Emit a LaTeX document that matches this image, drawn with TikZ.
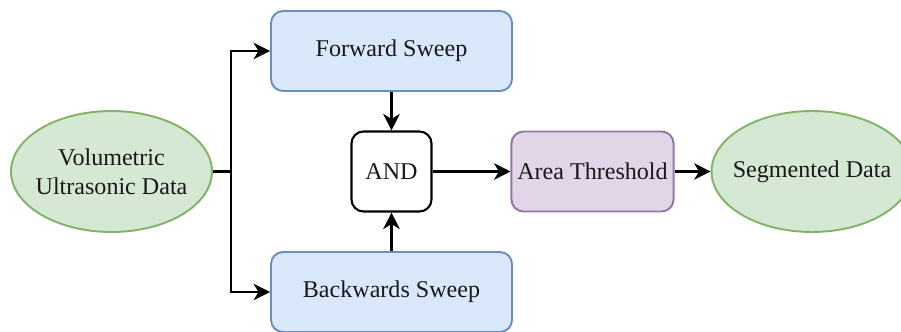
\documentclass[tikz,border=0pt]{standalone}
\usepackage{fontspec}
\setmainfont{Liberation Serif}
\usepackage{xcolor}
\usepackage{tikz}
\usetikzlibrary{arrows.meta, shapes, positioning}
\definecolor{sweepfill}{HTML}{DAE8FC}
\definecolor{sweepdraw}{HTML}{6C8EBF}
\definecolor{datafill}{HTML}{D5E8D4}
\definecolor{datadraw}{HTML}{82B366}
\definecolor{areafill}{HTML}{E1D5E7}
\definecolor{areadraw}{HTML}{9673A6}
\tikzset{
  txt/.style={font=\fontsize{13.7}{16.5}\selectfont, align=center, text=black!90},
  sweep/.style={rectangle, draw=sweepdraw, fill=sweepfill, rounded corners=2.4mm,
                line width=1.1pt, minimum width=4.82cm, minimum height=1.6cm, txt},
  gate/.style={rectangle, draw=black, fill=white, rounded corners=2.4mm,
               line width=1.2pt, minimum width=1.6cm, minimum height=1.6cm, txt},
  filt/.style={rectangle, draw=areadraw, fill=areafill, rounded corners=2.4mm,
               line width=1.1pt, minimum width=3.22cm, minimum height=1.6cm, txt},
  data/.style={ellipse, draw=datadraw, fill=datafill, line width=1.1pt,
               inner sep=0pt, minimum width=4.02cm, minimum height=2.42cm},
  arc/.style={-{Stealth[length=3.3mm, width=3.3mm, inset=1mm]}, line width=1.35pt}
}
\begin{document}
\begin{tikzpicture}[x=0.02cm, y=-0.02cm]
  \useasboundingbox (0,0) rectangle (901,331);
  \node[data, label={[txt]center:Volumetric\\Ultrasonic Data}] (vol) at (111.5,171.5) {};
  \node[sweep] (fwd) at (391.5,51) {Forward Sweep};
  \node[sweep] (bwd) at (391.5,292) {Backwards Sweep};
  \node[gate] (and) at (391.5,171.5) {AND};
  \node[filt] (area) at (592.5,171.5) {Area Threshold};
  \node[data, label={[txt]center:Segmented Data}] (seg) at (812,171.5) {};
  \coordinate (split) at (231,171.5);
  \draw[line width=1.35pt] (vol.east) -- (split);
  \draw[arc] (split) |- (fwd.west);
  \draw[arc] (split) |- (bwd.west);
  \draw[arc] (fwd) -- (and);
  \draw[arc] (bwd) -- (and);
  \draw[arc] (and) -- (area);
  \draw[arc] (area) -- (seg);
\end{tikzpicture}
\end{document}
